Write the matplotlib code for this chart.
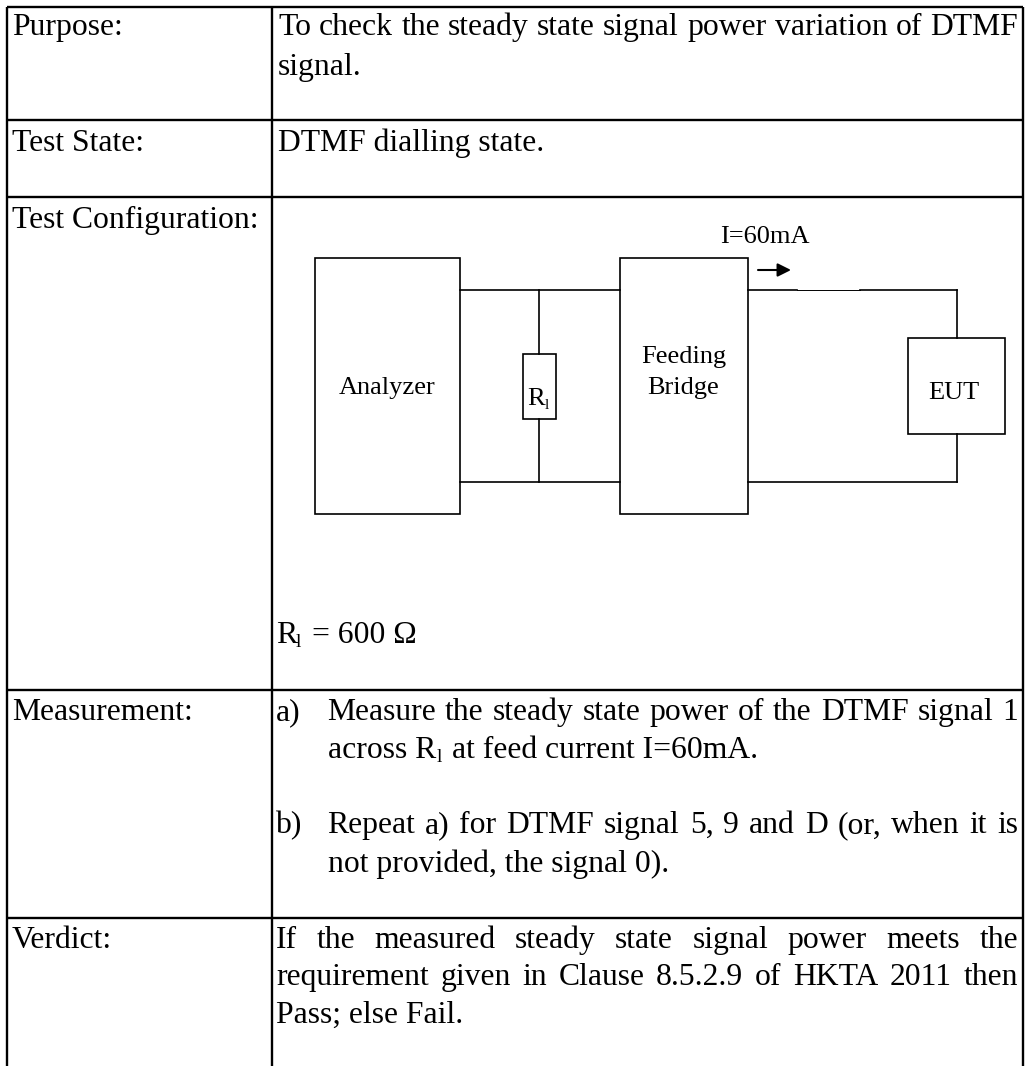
import matplotlib
matplotlib.use('Agg')
import matplotlib.pyplot as plt
from matplotlib.patches import Rectangle

# table layout, in pixels of the 1026x1066 picture
LEFT = 7
COL = 272
RIGHT = 1023
ROWS = [7, 120, 197, 690, 918]
BOTTOM = 1066

LABELS = ["Purpose:", "Test State:", "Test Configuration:", "Measurement:", "Verdict:"]
LABEL_Y = [35, 151, 228, 720, 948]

# (text, x start, baseline, justified up to x or None)
BODY = [
    ("To check the steady state signal power variation of DTMF", 278, 35, 1018),
    ("signal.", 278, 75, None),
    ("DTMF dialling state.", 278, 151, None),
    ("a)", 276, 720, None),
    ("Measure the steady state power of the DTMF signal 1", 327, 720, 1018),
    ("b)", 276, 833, None),
    ("Repeat a) for DTMF signal 5, 9 and D (or, when it is", 327, 833, 1018),
    ("not provided, the signal 0).", 328, 872, None),
    ("If the measured steady state signal power meets the", 276, 948, 1018),
    ("requirement given in Clause 8.5.2.9 of HKTA 2011 then", 276, 985, 1018),
    ("Pass; else Fail.", 276, 1023, None),
]

# diagram boxes: x0, y0, x1, y1
BOXES = [(315, 258, 460, 514), (620, 258, 748, 514), (523, 354, 556, 419), (908, 338, 1005, 434)]
WIRES = [
    ([460, 620], [290, 290]),
    ([460, 620], [482, 482]),
    ([539, 539], [290, 354]),
    ([539, 539], [419, 482]),
    ([748, 797], [290, 290]),
    ([860, 957], [290, 290]),
    ([748, 957], [482, 482]),
    ([957, 957], [290, 338]),
    ([957, 957], [434, 482]),
]
THIN_WIRE = ([797, 860], [290, 290])

FONT = 'Liberation Serif'
SIZE = 22.8
SMALL = 19

fig = plt.figure(figsize=(10.26, 10.66), dpi=100)
ax = fig.add_axes([0, 0, 1, 1])
ax.set_xlim(0, 1026)
ax.set_ylim(1066, 0)
ax.axis('off')


def put(x, y, s, size=SIZE, **kw):
    return ax.text(x, y, s, family=FONT, fontsize=size, va='baseline', color='black', **kw)


def width_of(s, size=SIZE):
    t = put(0, 0, s, size=size)
    w = t.get_window_extent(fig.canvas.get_renderer()).width
    t.remove()
    return w


def justified(s, x, y, end):
    words = s.split(' ')
    widths = [width_of(w) for w in words]
    gap = (end - x - sum(widths)) / (len(words) - 1)
    for w, wd in zip(words, widths):
        put(x, y, w)
        x += wd + gap


# table rules
for y in ROWS:
    ax.plot([LEFT, RIGHT], [y, y], color='black', lw=1.7, solid_capstyle='butt')
for x in [LEFT, COL, RIGHT]:
    ax.plot([x, x], [ROWS[0], BOTTOM], color='black', lw=1.7, solid_capstyle='butt')

for s, y in zip(LABELS, LABEL_Y):
    put(12, y, s)

for s, x, y, end in BODY:
    if end is None:
        put(x, y, s)
    else:
        justified(s, x, y, end)

# R_l lines with the small subscript
put(276, 643, "R")
put(296, 647, "l", size=14)
put(312, 643, "= 600 Ω")
put(328, 758, "across R")
put(437, 762, "l", size=14)
put(452, 758, "at feed current I=60mA.")

# diagram
for x0, y0, x1, y1 in BOXES:
    ax.add_patch(Rectangle((x0, y0), x1 - x0, y1 - y0, fill=False, ec='black', lw=1.2))
for xs, ys in WIRES:
    ax.plot(xs, ys, color='black', lw=1.2, solid_capstyle='projecting')
ax.plot(THIN_WIRE[0], THIN_WIRE[1], color='black', lw=0.7)
ax.annotate('', xy=(791, 270), xytext=(758, 270),
            arrowprops=dict(arrowstyle='-|>', color='black', lw=1.5, mutation_scale=20, shrinkA=0, shrinkB=0))

put(765, 243, "I=60mA", size=SMALL, ha='center')
put(387, 394, "Analyzer", size=SMALL, ha='center')
put(684, 363, "Feeding", size=SMALL, ha='center')
put(683, 394, "Bridge", size=SMALL, ha='center')
put(954, 399, "EUT", size=SMALL, ha='center')
put(527, 405, "R", size=SMALL)
put(545, 409, "l", size=11)

fig.savefig('out.png', dpi=100)
